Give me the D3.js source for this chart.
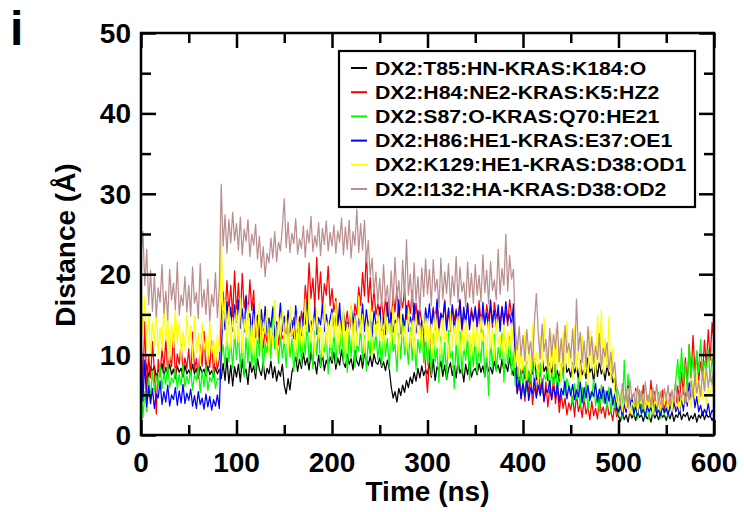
<!DOCTYPE html>
<html>
<head>
<meta charset="utf-8">
<script src="https://cdn.jsdelivr.net/npm/d3@7/dist/d3.min.js"></script>
<style>
  html, body { margin: 0; padding: 0; background: #fff; }
  svg { display: block; font-family: "Liberation Sans", Arial, Helvetica, sans-serif; font-weight: bold; }
</style>
</head>
<body>
<svg id="chart" width="744" height="512"></svg>
<script>
// Sampling interval of the distance traces (ns)
const timeStep = 2;

const seriesNames = [
  "DX2:T85:HN-KRAS:K184:O",
  "DX2:H84:NE2-KRAS:K5:HZ2",
  "DX2:S87:O-KRAS:Q70:HE21",
  "DX2:H86:HE1-KRAS:E37:OE1",
  "DX2:K129:HE1-KRAS:D38:OD1",
  "DX2:I132:HA-KRAS:D38:OD2"
];
const seriesColors = ["#000000", "#ff0000", "#00ff00", "#0000ff", "#ffff00", "#bc8f8f"];

const xTicks = [0, 100, 200, 300, 400, 500, 600];
const yTicks = [0, 10, 20, 30, 40, 50];

// Distances (Å), one value every 2 ns from 0 to 600 ns
const t85_k184 = [
  9.5, 8.2, 7.4, 8.8, 7.1, 8.5, 7.9, 8.6, 7.2, 8.1, 7.7, 8.9, 7.3, 8.4, 7.6, 8.8, 7.5, 8.2, 7.0, 8.6, 7.8, 8.3, 7.2, 8.7, 7.6,
  8.1, 7.4, 8.8, 7.6, 8.3, 7.1, 8.5, 7.7, 8.2, 7.3, 8.6, 7.5, 8.0, 7.2, 8.4, 7.6, 8.2, 7.0, 8.9, 6.8, 9.6, 6.4, 8.7, 6.1, 8.5,
  7.2, 8.8, 6.6, 9.4, 7.5, 8.2, 6.3, 9.1, 7.8, 8.6, 7.0, 9.5, 8.1, 7.4, 9.0, 6.9, 8.3, 7.6, 9.2, 7.1, 8.5, 6.7, 8.0, 7.3, 8.8,
  6.2, 5.1, 7.0, 5.6, 7.8, 8.6, 9.8, 7.9, 9.4, 8.3, 10.2, 8.7, 9.6, 8.1, 10.4, 8.8, 9.1, 7.6, 9.9, 8.4, 10.1, 8.0, 9.3, 8.6, 9.7,
  8.9, 10.3, 8.2, 9.6, 8.7, 10.6, 9.0, 8.4, 10.0, 8.8, 9.5, 8.1, 10.5, 9.2, 8.6, 9.9, 8.3, 10.2, 9.4, 8.7, 9.8, 8.5, 10.1, 9.0, 8.8,
  9.6, 8.4, 9.1, 8.0, 9.3, 8.2, 6.0, 4.6, 5.4, 4.1, 5.8, 4.9, 6.2, 5.3, 6.8, 5.9, 7.2, 6.4, 7.8, 6.7, 8.3, 7.1, 8.6, 7.4, 8.1,
  7.6, 8.9, 7.2, 9.4, 6.8, 8.5, 7.9, 9.2, 7.3, 8.7, 6.9, 8.2, 9.0, 7.4, 8.6, 7.1, 9.3, 7.7, 8.4, 6.6, 8.8, 7.5, 9.1, 7.2, 8.0,
  8.3, 7.5, 8.9, 7.8, 8.6, 7.3, 9.0, 7.9, 8.4, 7.6, 9.2, 8.1, 8.7, 7.7, 9.4, 8.0, 8.8, 7.9, 9.6, 8.2, 7.4, 9.3, 6.9, 8.6, 7.2,
  8.4, 7.0, 9.1, 6.6, 8.2, 7.6, 9.5, 6.9, 8.7, 7.3, 9.8, 7.9, 8.5, 6.8, 8.9, 7.5, 9.2, 7.1, 8.0, 6.7, 8.8, 7.4, 9.4, 7.8, 8.3,
  7.2, 9.0, 7.7, 8.6, 6.9, 9.3, 7.5, 8.1, 7.0, 9.6, 7.8, 8.4, 6.6, 8.9, 7.3, 9.1, 7.6, 8.2, 6.8, 8.7, 7.4, 8.0, 6.5, 7.1, 3.2,
  2.4, 1.7, 2.8, 1.9, 2.5, 1.6, 2.9, 2.1, 2.6, 1.8, 3.0, 2.2, 2.5, 1.7, 2.7, 2.0, 2.4, 1.6, 2.9, 2.1, 2.6, 1.9, 2.8, 2.2, 2.5,
  1.8, 2.7, 2.0, 2.9, 1.7, 2.5, 2.2, 3.1, 1.9, 2.6, 2.3, 2.8, 1.8, 2.4, 2.0, 2.7, 1.6, 2.5, 2.1, 2.9, 1.9, 2.6, 2.2, 2.4, 1.8,
  2.3
];
const h84_k5 = [
  12.5, 6.2, 14.1, 5.4, 9.8, 7.1, 11.6, 8.0, 2.6, 9.4, 7.3, 10.8, 8.2, 11.9, 7.6, 9.9, 8.5, 12.4, 7.2, 10.1, 8.8, 11.3, 7.9, 9.6, 8.3,
  10.7, 7.4, 12.8, 8.1, 9.5, 7.0, 11.2, 8.6, 12.9, 7.8, 10.3, 8.4, 11.7, 7.5, 9.9, 8.2, 9.4, 14.6, 17.8, 14.9, 19.2, 15.3, 18.6, 14.7, 20.4,
  15.2, 18.9, 14.3, 20.1, 15.8, 17.4, 14.6, 19.3, 15.5, 18.0, 12.1, 14.2, 11.4, 13.6, 10.8, 13.1, 11.5, 14.0, 10.9, 12.7, 11.8, 13.9, 11.2, 13.3, 12.0,
  12.6, 14.1, 11.7, 13.5, 12.3, 14.6, 11.9, 13.2, 12.8, 15.4, 13.6, 18.6, 16.2, 21.4, 17.0, 19.5, 15.8, 22.1, 16.9, 20.3, 15.6, 18.8, 17.4, 21.0, 16.1,
  18.2, 15.3, 17.0, 13.8, 15.1, 13.2, 14.9, 13.6, 15.4, 12.8, 14.7, 13.5, 16.3, 15.0, 18.4, 16.1, 20.2, 17.3, 22.8, 16.5, 19.6, 15.4, 18.1, 14.9, 16.3,
  15.0, 16.6, 14.2, 17.1, 14.8, 16.0, 13.9, 17.5, 15.3, 18.4, 14.6, 17.0, 15.8, 18.2, 14.4, 16.7, 15.1, 18.0, 14.3, 16.4, 13.7, 15.6, 14.0, 12.1, 8.4,
  5.3, 9.6, 13.8, 15.9, 13.1, 16.4, 12.7, 15.2, 14.0, 16.8, 13.3, 15.5, 12.9, 16.1, 14.2, 15.7, 13.6, 16.9, 12.8, 15.0, 14.4, 16.3, 13.5, 15.8, 14.1,
  15.6, 13.2, 16.7, 14.0, 15.3, 13.7, 16.2, 14.5, 15.9, 13.4, 16.5, 14.8, 15.1, 13.9, 16.0, 14.3, 15.4, 13.6, 16.8, 14.9, 15.2, 7.6, 5.1, 8.3, 4.6,
  6.9, 4.2, 8.1, 5.0, 7.4, 3.8, 6.2, 4.7, 8.6, 5.3, 7.0, 4.1, 6.6, 3.5, 5.8, 4.4, 7.2, 3.9, 6.0, 2.8, 5.1, 3.3, 4.6, 2.5, 4.0,
  3.1, 4.8, 2.3, 5.2, 2.9, 3.9, 2.2, 4.5, 2.6, 3.6, 1.9, 4.2, 2.4, 3.3, 2.0, 4.7, 2.7, 3.5, 2.1, 4.1, 2.5, 3.0, 1.8, 3.8, 2.3,
  2.6, 4.1, 2.2, 3.7, 2.9, 5.0, 2.4, 4.4, 3.1, 5.8, 2.7, 4.6, 3.3, 6.2, 2.8, 4.9, 3.5, 6.8, 3.0, 5.4, 2.6, 4.7, 3.2, 5.6, 2.9,
  4.5, 3.1, 5.2, 2.8, 4.0, 3.4, 6.1, 4.2, 7.8, 5.0, 9.6, 6.3, 11.2, 7.1, 12.4, 8.0, 10.3, 6.8, 9.1, 7.4, 11.8, 8.6, 13.1, 9.3, 14.0,
  11.5
];
const s87_q70 = [
  6.8, 2.1, 5.4, 2.9, 7.2, 4.6, 8.0, 5.5, 7.4, 6.1, 8.6, 5.8, 7.7, 6.3, 8.9, 5.9, 7.1, 6.5, 8.3, 5.7, 7.6, 6.2, 8.8, 6.0, 7.3,
  6.4, 8.1, 5.6, 7.5, 6.8, 8.4, 5.3, 7.9, 6.0, 8.7, 5.5, 7.2, 6.6, 8.2, 5.8, 7.0, 6.9, 9.5, 11.2, 8.6, 12.4, 9.1, 11.8, 8.3, 12.7,
  9.4, 12.8, 8.3, 11.6, 7.2, 12.1, 9.0, 13.5, 8.6, 11.0, 7.7, 12.6, 9.8, 13.9, 8.1, 11.4, 10.2, 14.6, 9.5, 16.0, 10.7, 13.1, 8.9, 12.3, 9.6,
  11.8, 8.4, 13.2, 9.7, 12.0, 7.9, 11.3, 9.2, 13.6, 8.7, 12.5, 10.0, 14.1, 9.1, 11.7, 8.2, 12.9, 9.9, 13.4, 8.5, 11.1, 10.3, 12.7, 7.6, 11.9,
  9.3, 13.0, 8.8, 12.2, 10.1, 14.3, 9.0, 11.5, 7.8, 12.8, 9.7, 13.7, 8.4, 11.2, 10.5, 13.3, 9.2, 12.4, 8.0, 11.8, 9.9, 14.0, 10.6, 12.6, 9.4,
  11.7, 8.6, 13.1, 9.8, 12.0, 8.2, 13.9, 10.4, 11.3, 7.9, 12.7, 9.5, 14.2, 10.0, 11.6, 8.8, 13.4, 9.3, 12.1, 8.1, 11.9, 10.2, 13.6, 9.0, 12.3,
  8.7, 11.9, 7.4, 12.6, 9.1, 10.8, 6.5, 12.2, 8.3, 11.5, 7.0, 13.0, 9.6, 10.4, 5.8, 11.7, 8.0, 12.9, 7.6, 10.9, 9.3, 12.4, 6.8, 11.2, 8.5,
  12.0, 7.7, 11.4, 9.0, 13.1, 7.2, 10.6, 4.9, 11.8, 8.4, 12.5, 7.9, 10.9, 9.4, 12.7, 6.6, 11.3, 8.8, 12.2, 7.5, 10.5, 6.1, 8.4, 5.6, 7.9,
  6.3, 8.6, 5.4, 7.8, 6.7, 9.1, 5.9, 8.2, 6.5, 8.9, 5.2, 7.5, 6.9, 8.4, 5.7, 7.7, 6.1, 8.8, 5.5, 7.3, 6.8, 8.1, 4.9, 7.0, 6.2,
  5.6, 3.8, 6.4, 4.5, 7.1, 3.5, 5.9, 4.2, 6.6, 3.1, 5.3, 4.7, 6.9, 3.6, 5.0, 2.9, 6.2, 4.0, 5.5, 3.3, 6.0, 2.7, 4.8, 3.4, 5.7,
  2.5, 4.3, 2.1, 9.3, 3.4, 7.6, 2.8, 4.9, 2.3, 3.9, 2.0, 5.6, 2.6, 4.1, 2.2, 3.6, 1.9, 4.8, 2.4, 3.2, 2.7, 5.3, 2.1, 3.8, 2.5,
  3.5, 2.3, 4.6, 3.0, 5.2, 6.8, 9.4, 5.9, 10.8, 6.6, 8.9, 5.4, 11.3, 7.2, 9.8, 6.1, 10.5, 7.8, 11.9, 6.9, 9.2, 8.0, 10.7, 6.7, 9.6,
  8.2
];
const h86_e37 = [
  11.6, 4.2, 9.3, 3.5, 6.1, 3.9, 5.8, 3.3, 5.1, 4.6, 6.7, 3.8, 5.4, 4.1, 6.2, 3.6, 5.0, 4.4, 5.9, 3.7, 5.5, 4.0, 6.3, 3.9, 5.2,
  4.3, 5.7, 3.6, 4.9, 3.3, 5.4, 3.8, 4.6, 3.2, 5.1, 3.5, 4.8, 3.1, 4.4, 3.6, 5.0, 3.3, 10.2, 15.4, 13.1, 16.6, 13.8, 15.9, 12.9, 16.2,
  14.0, 16.8, 13.3, 15.7, 12.8, 17.2, 14.4, 15.1, 12.5, 16.3, 13.7, 14.9, 12.2, 15.6, 13.0, 16.0, 12.7, 14.5, 13.4, 15.8, 12.3, 14.1, 13.6, 16.4, 12.9,
  14.8, 12.6, 15.5, 13.2, 14.3, 12.0, 16.1, 13.5, 14.7, 12.4, 15.2, 13.8, 16.6, 12.8, 14.2, 13.1, 15.9, 12.5, 14.6, 13.7, 16.2, 12.9, 15.0, 13.3, 14.4,
  15.7, 12.7, 14.9, 13.6, 16.4, 12.3, 15.3, 13.0, 14.0, 12.6, 16.0, 13.9, 15.1, 12.4, 14.5, 13.2, 16.3, 12.9, 15.6, 13.5, 14.8, 12.2, 15.4, 13.8, 14.1,
  15.9, 13.0, 14.6, 12.5, 16.5, 13.4, 15.2, 12.8, 14.3, 13.7, 16.8, 12.6, 15.0, 13.3, 16.1, 12.9, 14.7, 13.6, 16.4, 12.7, 15.5, 13.1, 14.2, 12.4, 15.8,
  14.0, 16.3, 13.2, 15.6, 13.9, 16.9, 13.4, 15.1, 14.4, 16.6, 13.0, 15.8, 13.7, 16.2, 12.9, 15.4, 14.1, 16.7, 13.3, 15.9, 13.8, 16.4, 13.1, 15.3, 14.3,
  16.0, 13.5, 15.7, 12.8, 16.5, 13.9, 15.2, 13.2, 16.8, 14.0, 15.5, 13.4, 16.2, 12.9, 15.9, 13.7, 16.6, 14.2, 15.0, 13.6, 16.3, 9.5, 5.2, 6.8, 4.5,
  6.4, 4.8, 6.9, 4.3, 5.9, 5.1, 7.0, 4.6, 6.2, 4.9, 6.6, 4.2, 5.7, 5.3, 6.8, 4.4, 6.0, 4.7, 6.5, 4.1, 5.8, 5.0, 6.7, 4.5, 6.1,
  4.9, 6.3, 4.4, 5.6, 4.7, 6.6, 4.0, 5.9, 4.6, 6.2, 4.3, 5.4, 4.8, 6.4, 4.1, 5.7, 4.5, 6.0, 3.9, 5.5, 4.2, 5.8, 3.7, 5.1, 3.4,
  2.9, 3.6, 2.5, 4.0, 2.8, 6.1, 3.3, 5.0, 2.6, 3.5, 2.4, 3.9, 2.7, 3.2, 2.3, 3.7, 2.9, 3.4, 2.5, 4.1, 2.6, 3.1, 2.4, 3.6, 2.8,
  3.3, 2.5, 3.8, 2.7, 4.2, 2.9, 3.5, 2.6, 4.6, 3.0, 5.8, 3.6, 6.5, 4.2, 6.1, 3.4, 4.8, 2.9, 3.7, 2.4, 3.2, 2.6, 3.9, 2.3, 3.1,
  2.7
];
const k129_d38 = [
  19.4, 12.6, 17.2, 10.8, 15.3, 9.6, 14.1, 11.2, 15.8, 9.9, 13.4, 10.5, 16.1, 11.7, 14.6, 9.3, 13.8, 10.9, 15.5, 11.4, 14.0, 9.7, 12.9, 10.6, 15.0,
  11.1, 13.6, 9.4, 14.8, 10.3, 12.7, 8.9, 13.9, 10.6, 12.2, 9.0, 14.3, 10.1, 11.8, 8.7, 12.5, 10.4, 25.3, 13.2, 16.8, 11.0, 15.9, 10.7, 14.6, 12.0,
  15.6, 11.5, 17.0, 10.2, 14.4, 12.1, 16.2, 10.8, 13.7, 9.6, 15.1, 11.9, 16.5, 10.4, 14.0, 12.6, 15.8, 9.9, 13.3, 11.2, 16.7, 10.0, 14.7, 12.3, 15.3,
  11.4, 14.9, 10.1, 16.0, 12.4, 13.6, 9.8, 15.4, 11.0, 14.2, 10.7, 16.9, 12.8, 17.4, 11.6, 14.5, 10.3, 15.7, 12.0, 13.5, 9.7, 16.3, 11.3, 14.1, 10.9,
  15.2, 12.2, 16.6, 10.5, 14.3, 11.7, 15.9, 9.8, 13.8, 12.5, 16.4, 10.6, 14.8, 11.1, 17.3, 12.7, 15.0, 10.2, 14.0, 11.8, 16.1, 10.0, 13.6, 12.3, 15.5,
  11.9, 14.4, 10.4, 15.6, 12.6, 13.9, 10.9, 16.0, 11.5, 14.7, 10.1, 15.3, 12.1, 13.5, 10.6, 15.8, 11.3, 14.2, 9.9, 15.0, 12.4, 13.7, 10.8, 14.9, 11.6,
  14.5, 10.7, 13.8, 9.6, 15.1, 11.4, 13.2, 10.0, 14.6, 11.8, 12.9, 9.4, 15.3, 10.9, 13.6, 11.2, 14.8, 9.8, 13.0, 10.5, 14.3, 11.7, 12.7, 9.5, 14.0,
  11.0, 13.4, 10.2, 14.7, 11.6, 12.6, 9.7, 14.1, 10.8, 13.1, 9.3, 14.4, 11.3, 12.4, 10.0, 13.7, 9.6, 12.9, 10.6, 13.9, 11.1, 8.4, 12.2, 7.3, 10.6,
  8.0, 12.9, 6.8, 11.4, 7.6, 13.8, 8.5, 10.2, 6.5, 12.3, 7.9, 14.6, 8.8, 10.9, 6.9, 12.6, 7.4, 13.2, 8.2, 11.0, 6.6, 12.8, 7.8, 14.1, 8.6,
  10.6, 7.0, 13.5, 8.1, 11.7, 6.7, 12.4, 7.5, 10.3, 6.4, 13.0, 8.3, 11.5, 7.2, 14.9, 9.0, 15.5, 7.7, 12.1, 8.4, 14.7, 6.9, 10.8, 5.6, 4.3,
  3.6, 5.2, 2.9, 4.6, 3.3, 5.8, 2.7, 4.1, 3.5, 5.4, 2.8, 4.4, 3.9, 5.1, 3.0, 4.8, 3.4, 5.6, 2.6, 4.3, 3.7, 5.0, 3.1, 4.5, 3.8,
  5.3, 3.2, 4.7, 2.9, 5.5, 3.6, 4.2, 3.0, 5.0, 3.8, 6.2, 4.1, 5.4, 3.5, 6.8, 4.6, 7.4, 3.9, 6.0, 4.4, 7.9, 3.7, 5.8, 4.8, 6.5,
  4.9
];
const i132_d38 = [
  22.4, 25.3, 18.6, 23.1, 16.2, 20.5, 15.4, 19.8, 14.7, 18.3, 16.5, 21.2, 15.1, 17.9, 14.3, 20.6, 16.8, 18.9, 15.6, 21.5, 14.9, 17.4, 16.1, 19.7, 15.3,
  18.6, 14.8, 20.9, 16.4, 17.7, 14.5, 21.3, 15.9, 18.1, 15.0, 19.4, 14.2, 17.5, 16.0, 20.2, 14.6, 18.4, 31.2, 23.5, 27.4, 22.6, 26.8, 23.9, 27.7, 24.2,
  26.3, 23.0, 27.1, 22.4, 25.6, 24.1, 26.8, 22.2, 25.0, 23.6, 26.2, 21.9, 24.7, 20.8, 23.4, 19.7, 22.6, 21.4, 24.5, 22.0, 25.3, 21.6, 24.0, 22.9, 25.8,
  29.4, 23.3, 26.5, 22.7, 25.1, 23.8, 26.9, 22.5, 24.4, 23.2, 26.0, 22.1, 25.5, 23.9, 27.2, 22.8, 24.8, 23.4, 26.4, 22.3, 25.7, 23.7, 26.6, 22.9, 25.2,
  23.5, 26.1, 22.6, 25.4, 24.0, 27.0, 22.4, 25.9, 23.1, 26.7, 22.0, 25.3, 23.6, 28.1, 22.7, 26.3, 23.0, 26.7, 21.5, 24.2, 19.8, 22.0, 17.6, 20.3, 16.4,
  19.5, 15.8, 21.2, 16.7, 18.6, 15.2, 20.4, 16.3, 22.1, 17.0, 19.2, 15.6, 21.7, 16.9, 24.3, 17.4, 20.0, 15.9, 21.4, 16.6, 19.7, 15.4, 20.8, 17.2, 21.9,
  17.5, 20.6, 16.1, 21.8, 17.9, 19.4, 15.8, 22.0, 16.9, 20.3, 17.6, 21.3, 16.2, 19.8, 17.3, 22.2, 16.5, 20.9, 17.8, 19.0, 16.0, 21.5, 17.1, 20.1, 16.4,
  21.2, 17.4, 19.9, 16.6, 22.4, 17.7, 20.5, 16.3, 21.6, 18.0, 19.3, 16.8, 23.1, 17.5, 20.7, 18.6, 25.0, 17.9, 22.3, 19.4, 20.6, 12.8, 10.6, 13.5, 9.8,
  12.4, 9.2, 13.1, 10.1, 11.6, 8.9, 14.2, 17.6, 12.7, 9.5, 13.8, 10.4, 11.9, 8.6, 13.3, 9.8, 12.5, 10.7, 14.0, 9.1, 12.0, 8.8, 13.6, 10.2, 11.4,
  9.6, 13.2, 8.7, 16.9, 10.5, 12.8, 9.0, 11.7, 8.4, 13.5, 9.9, 12.2, 8.9, 11.1, 9.4, 12.6, 8.5, 10.8, 9.7, 11.5, 8.2, 10.3, 7.6, 9.0, 6.1,
  5.3, 3.8, 6.4, 4.1, 5.7, 3.5, 6.9, 4.4, 5.2, 3.6, 6.1, 4.0, 5.5, 3.3, 6.6, 4.3, 5.0, 3.7, 5.9, 4.2, 6.3, 3.9, 5.4, 3.4, 5.8,
  4.5, 6.2, 3.8, 5.6, 4.1, 6.5, 3.9, 5.3, 4.6, 6.0, 4.0, 5.7, 4.4, 6.8, 4.9, 7.3, 5.2, 6.6, 4.8, 7.9, 5.5, 8.4, 5.9, 7.7, 6.3,
  8.8
];

const seriesValues = [t85_k184, h84_k5, s87_q70, h86_e37, k129_d38, i132_d38];

const svg = d3.select("#chart");
const plot = { left: 141, right: 714, top: 33, bottom: 435 };

const x = d3.scaleLinear().domain([0, 600]).range([plot.left, plot.right]);
const y = d3.scaleLinear().domain([0, 50]).range([plot.bottom, plot.top]);

// Traces, drawn in legend order so the last set sits on top
const line = d3.line()
  .x((d, i) => x(i * timeStep))
  .y(d => y(d));

const traces = svg.append("g");
seriesValues.forEach((vals, k) => {
  traces.append("path")
    .datum(vals)
    .attr("fill", "none")
    .attr("stroke", seriesColors[k])
    .attr("stroke-width", 1.25)
    .attr("stroke-linejoin", "round")
    .attr("d", line);
});

// Frame
svg.append("rect")
  .attr("x", plot.left).attr("y", plot.top)
  .attr("width", plot.right - plot.left).attr("height", plot.bottom - plot.top)
  .attr("fill", "none").attr("stroke", "#000").attr("stroke-width", 2.5);

// Inward ticks on all four sides: major and minor
const major = 15, minor = 10;
const xMinor = d3.range(50, 600, 100);
const yMinor = d3.range(5, 50, 10);

function tickAxis(axisGen, transform) {
  const g = svg.append("g").attr("transform", transform).call(axisGen);
  g.select(".domain").remove();
  g.selectAll(".tick line").attr("stroke", "#000").attr("stroke-width", 2.5);
  return g;
}

// bottom
tickAxis(d3.axisTop(x).tickValues(xTicks).tickSize(major).tickFormat(""), `translate(0,${plot.bottom})`);
tickAxis(d3.axisTop(x).tickValues(xMinor).tickSize(minor).tickFormat(""), `translate(0,${plot.bottom})`);
// top
tickAxis(d3.axisBottom(x).tickValues(xTicks).tickSize(major).tickFormat(""), `translate(0,${plot.top})`);
tickAxis(d3.axisBottom(x).tickValues(xMinor).tickSize(minor).tickFormat(""), `translate(0,${plot.top})`);
// left
tickAxis(d3.axisRight(y).tickValues(yTicks).tickSize(major).tickFormat(""), `translate(${plot.left},0)`);
tickAxis(d3.axisRight(y).tickValues(yMinor).tickSize(minor).tickFormat(""), `translate(${plot.left},0)`);
// right
tickAxis(d3.axisLeft(y).tickValues(yTicks).tickSize(major).tickFormat(""), `translate(${plot.right},0)`);
tickAxis(d3.axisLeft(y).tickValues(yMinor).tickSize(minor).tickFormat(""), `translate(${plot.right},0)`);

// Tick labels
svg.append("g").selectAll("text").data(xTicks).join("text")
  .attr("x", d => x(d)).attr("y", 472)
  .attr("text-anchor", "middle")
  .attr("font-size", 28)
  .text(d => d);

svg.append("g").selectAll("text").data(yTicks).join("text")
  .attr("x", 131).attr("y", d => y(d) + 10)
  .attr("text-anchor", "end")
  .attr("font-size", 28)
  .text(d => d);

// Axis titles
svg.append("text")
  .attr("x", (plot.left + plot.right) / 2).attr("y", 501)
  .attr("text-anchor", "middle").attr("font-size", 28)
  .text("Time (ns)");

svg.append("text")
  .attr("transform", `translate(75,${(plot.top + plot.bottom) / 2 + 11}) rotate(-90)`)
  .attr("text-anchor", "middle").attr("font-size", 28)
  .text("Distance (Å)");

// Panel letter
svg.append("text")
  .attr("x", 10).attr("y", 45)
  .attr("font-size", 48)
  .text("i");

// Legend
const legend = svg.append("g");
legend.append("rect")
  .attr("x", 339).attr("y", 51).attr("width", 356).attr("height", 156)
  .attr("fill", "#fff").attr("stroke", "#000").attr("stroke-width", 2.2);

seriesNames.forEach((name, k) => {
  const cy = 68 + k * 24.2;
  legend.append("line")
    .attr("x1", 351).attr("x2", 367).attr("y1", cy).attr("y2", cy)
    .attr("stroke", seriesColors[k]).attr("stroke-width", 2);
  legend.append("text")
    .attr("transform", `translate(375,${cy + 6.5}) scale(1.18,1)`)
    .attr("font-size", 18)
    .text(name);
});
</script>
</body>
</html>
